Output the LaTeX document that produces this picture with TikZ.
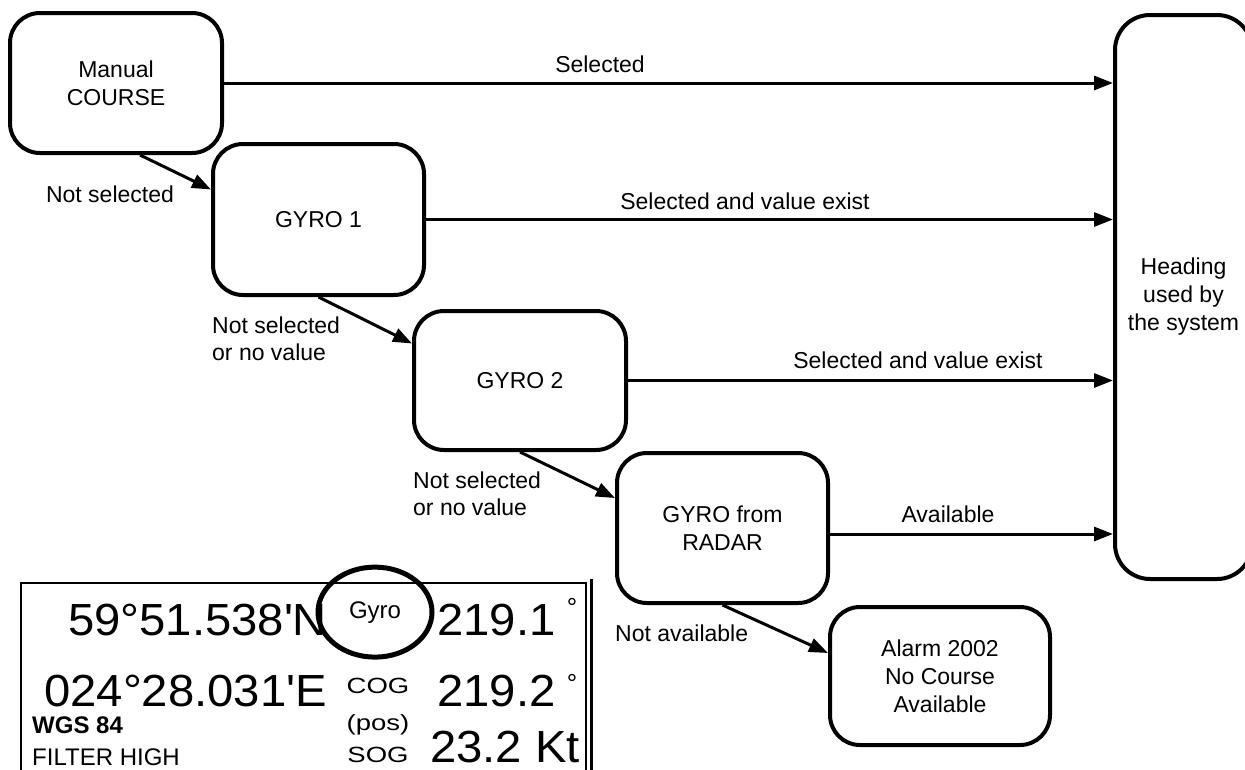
\documentclass[tikz,border=0pt]{standalone}
\usepackage{fontspec}
\setmainfont{Liberation Sans}
\newfontfamily\widefont[FakeStretch=1.25]{Liberation Sans}
\newfontfamily\numfont[FakeStretch=1.05]{Liberation Sans}
\usetikzlibrary{arrows.meta}
\tikzset{
  >={Triangle[length=19pt,width=14pt]},
  % boxes of the flow
  box/.style={draw,line width=4pt,rounded corners=30pt,align=center,inner sep=0pt,
    font=\fontsize{23}{28}\selectfont},
  flow/.style={->,line width=3pt},
  lbl/.style={inner sep=0pt,align=left,font=\fontsize{23}{27}\selectfont},
  % display panel
  bignum/.style={inner sep=0pt,anchor=base west,font=\numfont\fontsize{45}{50}\selectfont},
  tag/.style={inner sep=0pt,anchor=base,font=\widefont\fontsize{22}{26}\selectfont},
  deg/.style={inner sep=0pt,anchor=base,font=\fontsize{26}{30}\selectfont},
  info/.style={inner sep=0pt,anchor=base west,font=\fontsize{24}{28}\selectfont}
}
\begin{document}
\begin{tikzpicture}[x=1pt,y=-1pt]
  \path[fill=white,use as bounding box] (0,0) rectangle (1245,769);

  \node[box,minimum width=212pt,minimum height=140pt] (manual) at (116,83) {Manual\\COURSE};
  \node[box,minimum width=211pt,minimum height=151pt] (gyroA) at (318.5,219.5) {GYRO 1};
  \node[box,minimum width=212pt,minimum height=139pt] (gyroB) at (520,380.5) {GYRO 2};
  \node[box,minimum width=211pt,minimum height=150pt] (radar) at (722.5,528) {GYRO from\\RADAR};
  \node[box,minimum width=220pt,minimum height=138pt] (alarm) at (940,676) {Alarm 2002\\No Course\\Available};
  \node[box,rounded corners=35pt,minimum width=137pt,minimum height=564pt] (heading) at (1183.5,297) {Heading\\used by\\the system};

  % straight to the heading
  \draw[flow] (manual.east) -- (manual.east -| heading.west);
  \draw[flow] (gyroA.east) -- (gyroA.east -| heading.west);
  \draw[flow] (gyroB.east) -- (gyroB.east -| heading.west);
  \draw[flow] ([yshift=-6pt]radar.east) -- ([yshift=-6pt]radar.east -| heading.west);
  \node[lbl,anchor=base] (lSel) at (600,72) {Selected};
  \node[lbl,anchor=base] (lGyroA) at (745,209) {Selected and value exist};
  \node[lbl,anchor=base] (lGyroB) at (918,368) {Selected and value exist};
  \node[lbl,anchor=base] (lRadar) at (948,522) {Available};

  % fall-through
  \draw[flow] ([xshift=24pt]manual.south) -- ([yshift=30pt]gyroA.west);
  \draw[flow] (gyroA.south) -- ([yshift=37pt]gyroB.west);
  \draw[flow] (gyroB.south) -- ([yshift=30pt]radar.west);
  \draw[flow] (radar.south) -- ([yshift=23pt]alarm.west);
  \node[lbl,anchor=base] (lNotA) at (110,202) {Not selected};
  \node[lbl,anchor=north west] (lNotB) at (212,316.5) {Not selected\\or no value};
  \node[lbl,anchor=north west] (lNotC) at (413,471.5) {Not selected\\or no value};
  \node[lbl,anchor=base west] (lNotAv) at (615,641) {Not available};

  % display panel
  \draw[line width=2pt] (21,775) -- (21,583) -- (586,583) -- (586,775);
  \draw[line width=3pt] (591,579) -- (591,775);
  \node[bignum] (lat) at (68,635) {59°51.538\textquotesingle N};
  \node[bignum] (lon) at (44,706) {024°28.031\textquotesingle E};
  \node[bignum] (hdg) at (437,635) {219.1};
  \node[bignum] (cog) at (437,706) {219.2};
  \node[bignum] (sog) at (430,762) {23.2 Kt};
  \node[deg] (degA) at (572,616) {°};
  \node[deg] (degB) at (572,692) {°};
  \node[inner sep=0pt,anchor=base,font=\fontsize{24}{28}\selectfont] (src) at (375,618) {Gyro};
  \node[tag] (tCog) at (378,693) {COG};
  \node[tag] (tPos) at (378,730) {(pos)};
  \node[tag] (tSog) at (378,762) {SOG};
  \node[info,font=\bfseries\fontsize{24}{28}\selectfont] (datum) at (32,733) {WGS 84};
  \node[info] (filter) at (32,765) {FILTER HIGH};
  \draw[line width=5pt] (src) ellipse [x radius=57pt,y radius=45pt];
\end{tikzpicture}
\end{document}
